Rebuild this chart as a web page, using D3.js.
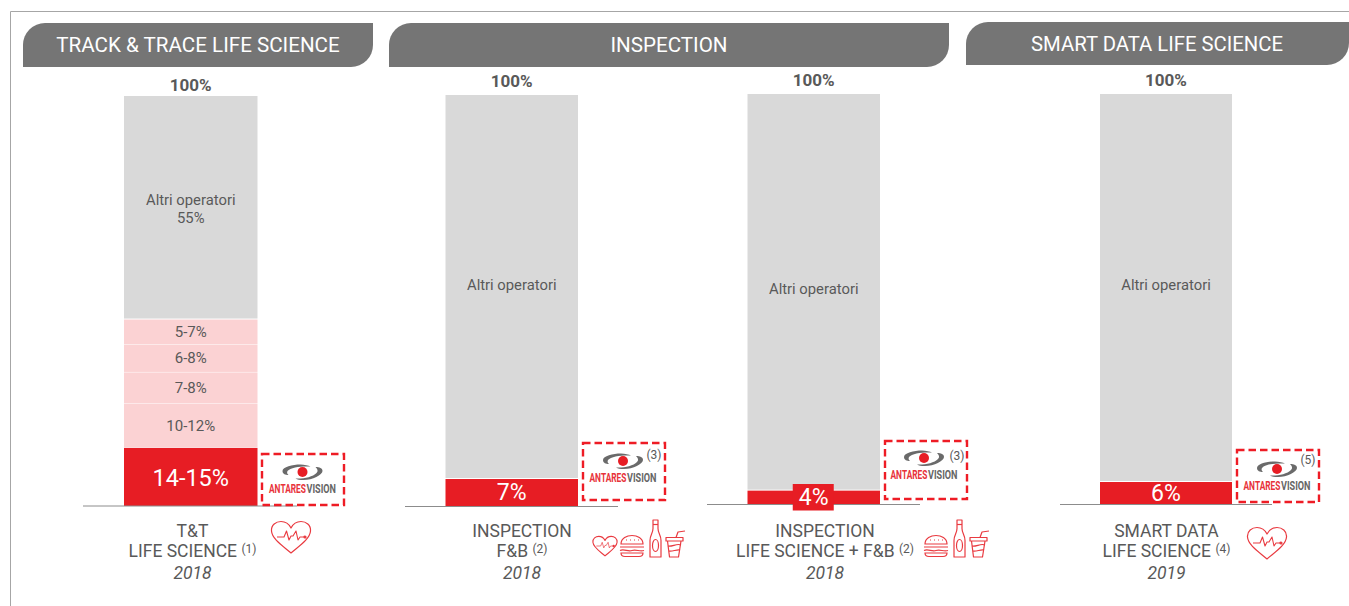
<!DOCTYPE html>
<html><head><meta charset="utf-8">
<script src="https://cdn.jsdelivr.net/npm/d3@7"></script>
<style>html,body{margin:0;padding:0;background:#fff}svg{display:block}text{font-family:Roboto,sans-serif}</style>
</head><body><svg id="c" width="1349" height="606"></svg>
<script>
// ---- data ----
const headers = ["TRACK & TRACE LIFE SCIENCE", "INSPECTION", "SMART DATA LIFE SCIENCE"];
const totalLabel = "100%";
const othersName = "Altri operatori";
const ttSegments = [14.3, 10.8, 7.6, 6.8, 6.1, 54.4];
const ttLabels = ["14-15%", "10-12%", "7-8%", "6-8%", "5-7%", "55%"];
const inspFbSegments = [6.8, 93.2];
const inspFbLabels = ["7%", ""];
const inspBothSegments = [3.5, 96.5];
const inspBothLabels = ["4%", ""];
const smartSegments = [5.6, 94.4];
const smartLabels = ["6%", ""];
const categories = [["T&T"], ["INSPECTION"], ["INSPECTION"], ["SMART DATA"]];
const categories2 = ["LIFE SCIENCE", "F&B", "LIFE SCIENCE + F&B", "LIFE SCIENCE"];
const footnotes = ["(1)", "(2)", "(2)", "(4)"];
const years = ["2018", "2018", "2018", "2019"];
const logoNotes = ["", "(3)", "(3)", "(5)"];

// ---- layout ----
const panels = [
 {seg:ttSegments, lab:ttLabels, x0:124, x1:257.5, top:96, base:506, totY:91, othY:205, lineX:[83,297], cx:192,
  box:[262,454,344,505], logo:[302.5,472], noteAt:null, icons:[["heart",291,537,1.0]]},
 {seg:inspFbSegments, lab:inspFbLabels, x0:445.5, x1:578, top:95, base:506.5, totY:87, othY:290, lineX:[405,618], cx:522,
  box:[583,443,665,500], logo:[623,461], noteAt:[654,459], icons:[["heart",605,546,.62],["burger",632,546,1],["bottle",655.5,538.5,1],["cup",675,544,1]]},
 {seg:inspBothSegments, lab:inspBothLabels, x0:747.5, x1:880, top:94, base:504.5, totY:86, othY:294, lineX:[707,920], cx:825,
  box:[885,441,967,499], logo:[924,458], noteAt:[957,460], icons:[["burger",936,546,1],["bottle",959.5,538.5,1],["cup",979,544,1]]},
 {seg:smartSegments, lab:smartLabels, x0:1100, x1:1232, top:94, base:504.5, totY:86, othY:290, lineX:[1060,1272], cx:1166,
  box:[1237,450,1319,502], logo:[1277,469], noteAt:[1308,464], icons:[["heart",1267,543,1.0]]}
];
const headerBoxes = [[23,23,373,67],[389,23,949,67],[966,22,1349,65]];
const headerCx = [198,669,1157];
const headerSize = [20.6,20.6,20.3];
const catCx = [192.5,522,825,1166.5];
const catW = {red:"#e71d24", pink:"#fbd2d3", gray:"#d9d9d9", txt:"#595959", icon:"#e93a40"};

const svg = d3.select("#c");

// frame
svg.append("path").attr("d","M10.5,606V11.5H1349").attr("fill","none").attr("stroke","#a6a6a6").attr("stroke-width",1);

// headers
const R = 22;
headerBoxes.forEach((b,i)=>{
  const [x0,y0,x1,y1]=b;
  svg.append("path").attr("fill","#757575")
    .attr("d",`M${x0},${y1}V${y0+R}A${R},${R} 0 0 1 ${x0+R},${y0}H${x1}V${y1-R}A${R},${R} 0 0 1 ${x1-R},${y1}Z`);
  svg.append("text").attr("x",headerCx[i]).attr("y",(y0+y1)/2+7).attr("text-anchor","middle")
    .attr("fill","#fff").attr("font-size",headerSize[i]).text(headers[i]);
});

function heart(g,s){
  const h=g.append("g").attr("transform",`scale(${s})`).attr("fill","none").attr("stroke",catW.icon).attr("stroke-width",s<1?1.8:1.2).attr("stroke-linejoin","round");
  h.append("path").attr("d","M0,16C-8,9-19,2-19.5,-6C-20,-12-15,-15.5-10,-15.5C-5.5,-15.5-2,-13 0,-9C2,-13 5.5,-15.5 10,-15.5C15,-15.5 20,-12 19.5,-6C19,2 8,9 0,16Z");
  h.append("path").attr("stroke-width",1.1).attr("d","M-14,0H-7L-4.5,-6L-2,3L0,-1H2L5,-6L7,3L9,0H14");
  h.append("circle").attr("cx",14).attr("cy",0).attr("r",1).attr("fill",catW.icon);
}
function burger(g){
  const h=g.append("g").attr("fill","none").attr("stroke",catW.icon).attr("stroke-width",1.2);
  h.append("path").attr("d","M-11,-2C-11,-8-5,-10.5 0,-10.5C5,-10.5 11,-8 11,-2Z");
  h.append("path").attr("d","M-12,1H12M-12,4.5C-8,2.5-4,6 0,4.5C4,3 8,6 12,4.5");
  h.append("path").attr("d","M-11,7H11C11,10 9,10.5 7,10.5H-7C-9,10.5-11,10-11,7Z");
  h.append("path").attr("stroke-width",1).attr("stroke-dasharray","1 3").attr("d","M-6,-6H7");
}
function bottle(g){
  const h=g.append("g").attr("fill","none").attr("stroke",catW.icon).attr("stroke-width",1.2).attr("stroke-linejoin","round");
  h.append("path").attr("d","M-2.5,-18.5H2.5V-10C2.5,-5 5.5,-4 5.5,2V18.5H-5.5V2C-5.5,-4 -2.5,-5 -2.5,-10Z");
  h.append("path").attr("d","M-2.5,-14H2.5");
  h.append("ellipse").attr("cx",0).attr("cy",7).attr("rx",3).attr("ry",6);
}
function cup(g){
  const h=g.append("g").attr("fill","none").attr("stroke",catW.icon).attr("stroke-width",1.2).attr("stroke-linejoin","round");
  h.append("path").attr("d","M-9,-6.5H8V-3H-9ZM-7.5,-3L-5.5,13H3.5L6,-3");
  h.append("path").attr("d","M-7,2C-3,3 2,-1 6,1M-6,7C-3,8 2,5 5,6");
  h.append("path").attr("d","M1,-6.5L3,-12L10,-13");
}
const iconFns={heart:(g,s)=>heart(g,s),burger,bottle,cup};

function squeezed(g,str,x,w,fill){
  const t=g.append("text").attr("font-size",12).attr("font-weight",700).attr("fill",fill).text(str);
  const natural=t.node().getComputedTextLength();
  t.attr("transform",`translate(${x},20.5) scale(${w/natural},1)`);
}
function logo(g){
  g.append("path").attr("fill","#6a6a6a").attr("d","M-20,-1C-20,-5-10,-7.5-2,-7.5C2,-7.5 6,-6.5 8,-5.5C0,-6-12,-5-15,-1C-16,1-15,2-14,3C-17,3-20,2-20,-1Z");
  g.append("path").attr("fill","#6a6a6a").attr("d","M20,-1C20,3 10,8 1,8C-3,8-5,7.5-7,6.5C1,7 10,5 14,1C16,-1 15,-3 13,-5C17,-5 20,-4 20,-1Z");
  g.append("circle").attr("r",5).attr("fill",catW.red);
  squeezed(g,"ANTARES",-33.5,37,"#e8323a");
  squeezed(g,"VISION",4,29.5,"#666");
}

panels.forEach((p,i)=>{
  const y=d3.scaleLinear().domain([0,100]).range([p.base,p.top]);
  const g=svg.append("g");
  const cx=(p.x0+p.x1)/2;
  let cum=0;
  const n=p.seg.length;
  const rows=p.seg.map((v,j)=>{const r={v,j,a:cum,b:cum+v,lab:p.lab[j]};cum+=v;return r;});
  g.selectAll("rect.seg").data(rows).join("rect").attr("class","seg")
    .attr("x",p.x0).attr("width",p.x1-p.x0)
    .attr("y",d=>y(d.b)+(d.j===n-1?0:.5))
    .attr("height",d=>y(d.a)-y(d.b)-(d.j===n-1?0:.5)-(d.j===n-1?.5:0))
    .attr("fill",d=>d.j===0?catW.red:(d.j===n-1?catW.gray:catW.pink));
  // baseline
  g.append("line").attr("x1",p.lineX[0]).attr("x2",p.lineX[1]).attr("y1",y(0)).attr("y2",y(0)).attr("stroke","#8c8c8c").attr("stroke-width",1);
  // total
  g.append("text").attr("x",cx).attr("y",p.totY).attr("text-anchor","middle").attr("font-size",17).attr("font-weight",700).attr("fill","#595959").text(totalLabel);
  // others
  g.append("text").attr("x",cx).attr("y",p.othY).attr("text-anchor","middle").attr("font-size",14.8).attr("fill",catW.txt).text(othersName);
  if(rows[n-1].lab) g.append("text").attr("x",cx).attr("y",p.othY+18).attr("text-anchor","middle").attr("font-size",14.8).attr("fill",catW.txt).text(rows[n-1].lab);
  // mid segments
  g.selectAll("text.mid").data(rows.slice(1,n-1)).join("text").attr("class","mid")
    .attr("x",cx).attr("y",d=>(y(d.a)+y(d.b))/2+5.5).attr("text-anchor","middle").attr("font-size",15).attr("fill",catW.txt).text(d=>d.lab);
  // red label
  const r0=rows[0];
  const my=(y(r0.a)+y(r0.b))/2;
  if(i===2) g.append("rect").attr("x",cx-21).attr("width",41).attr("y",484).attr("height",26.5).attr("fill",catW.red);
  g.append("text").attr("x",cx).attr("y",i===2?505:(i===0?my+9.5:my+7.5)).attr("text-anchor","middle").attr("font-size",i===0?23.5:23).attr("fill","#fff").text(r0.lab);
  // logo box
  const [bx0,by0,bx1,by1]=p.box;
  g.append("rect").attr("x",bx0).attr("y",by0).attr("width",bx1-bx0).attr("height",by1-by0).attr("fill","none")
    .attr("stroke","#ee1c25").attr("stroke-width",2.4).attr("stroke-dasharray","7.5 4");
  logo(g.append("g").attr("transform",`translate(${p.logo[0]},${p.logo[1]})`));
  if(p.noteAt) g.append("text").attr("x",p.noteAt[0]).attr("y",p.noteAt[1]).attr("text-anchor","middle").attr("font-size",12).attr("fill","#595959").text(logoNotes[i]);
  // category labels
  const c=catCx[i];
  g.append("text").attr("x",c).attr("y",537).attr("text-anchor","middle").attr("font-size",17.5).attr("fill",catW.txt).text(categories[i][0]);
  const t=g.append("text").attr("x",c).attr("y",557).attr("text-anchor","middle").attr("font-size",17.5).attr("fill",catW.txt);
  t.append("tspan").text(categories2[i]+" ");
  t.append("tspan").attr("font-size",12).attr("dy",-4).text(footnotes[i]);
  g.append("text").attr("x",c).attr("y",579).attr("text-anchor","middle").attr("font-size",17.5).attr("font-style","italic").attr("fill",catW.txt).text(years[i]);
  // icons
  p.icons.forEach(([k,ix,iy,s])=>{
    iconFns[k](g.append("g").attr("transform",`translate(${ix},${iy})`),s);
  });
});
</script></body></html>
